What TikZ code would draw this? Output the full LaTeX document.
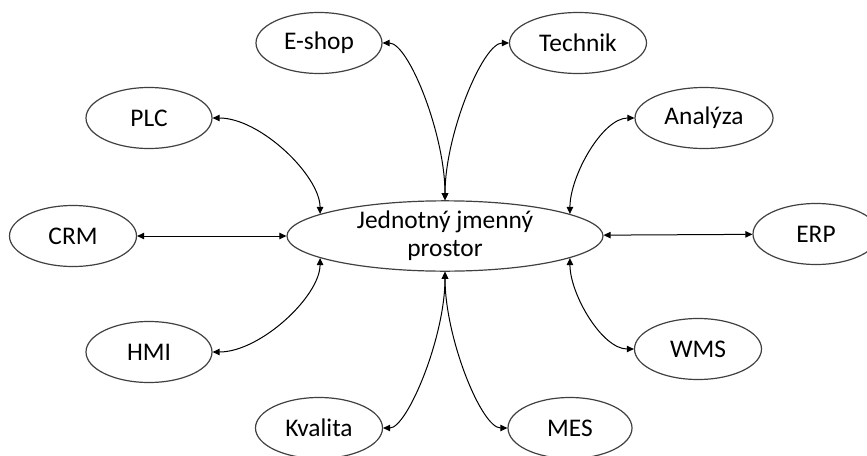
\documentclass[tikz,border=0pt]{standalone}
\usepackage{fontspec}
\setmainfont{Carlito}
\usetikzlibrary{arrows.meta}
\usetikzlibrary{shapes.geometric}

\tikzset{
  bubble/.style={ellipse,draw=black!75,line width=0.6pt,inner sep=0pt,
    minimum height=30.5pt,font=\fontsize{12.7}{14}\selectfont},
  link/.style={<->,>={Triangle[length=3.5pt,width=3.2pt]},line width=0.5pt}
}

\begin{document}
\begin{tikzpicture}[x=0.5pt,y=0.5pt]

  % fix the page to the size of the original
  \useasboundingbox (0,0) rectangle (867,-455);

  % central name space
  \node [bubble,minimum width=158pt,minimum height=29.5pt,align=center] (hub) at (445,-236)
    {Jednotný jmenný\\prostor};

  % surrounding systems
  \foreach \name/\txt/\x/\y/\w in {
      eshop/E-shop/319/43/63, technik/Technik/578/43/68.5,
      plc/PLC/149/118/63, analyza/Analýza/704/118/69,
      crm/CRM/73/236/63.5, erp/ERP/816/234/63,
      hmi/HMI/149/352/63, wms/WMS/698/349/63.5,
      kvalita/Kvalita/319/428/63.5, mes/MES/570/428/62} {
    \node [bubble,minimum width=\w pt] (\name) at (\x,-\y) {\txt};
  }

  % straight links
  \draw [link] (crm) -- (hub);
  \draw [link] (hub) -- (erp);

  % curved links
  \foreach \src/\dst/\aout/\ain/\dout/\din in {
      north/eshop.east/90/0/33/13, north/technik.west/90/180/33/13,
      170/plc.east/90/0/19/24, 10/analyza.west/90/180/19/16,
      190/hmi.east/270/0/19/24, 350/wms.west/270/180/18/16,
      south/kvalita.east/270/0/33/12, south/mes.west/270/180/33/13} {
    \draw [link] (hub.\src) to [out=\aout,in=\ain,out distance=\dout pt,in distance=\din pt] (\dst);
  }

\end{tikzpicture}
\end{document}
